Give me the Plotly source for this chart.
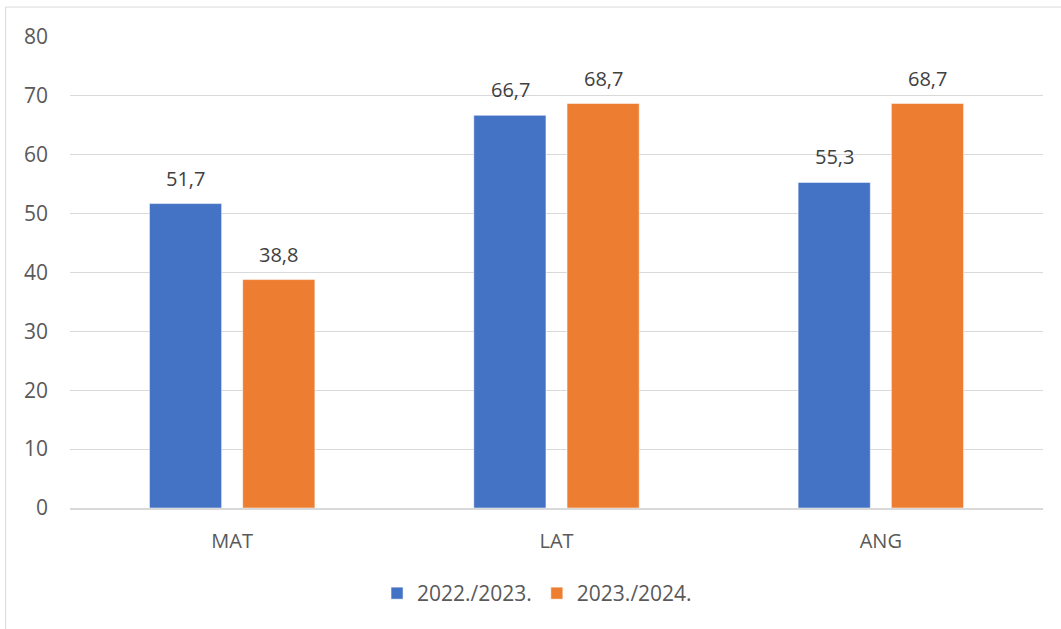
import plotly.graph_objects as go

categories = ["MAT", "LAT", "ANG"]
series_names = ["2022./2023.", "2023./2024."]
values_2022 = [51.7, 66.7, 55.3]
values_2023 = [38.8, 68.7, 68.7]
colors = ["#4472C4", "#ED7D31"]
y_ticks = [0, 10, 20, 30, 40, 50, 60, 70, 80]

FONT = "Open Sans"
TXT = "#595959"

fig = go.Figure()
all_vals = [values_2022, values_2023]
for name, vals, col in zip(series_names, all_vals, colors):
    fig.add_trace(go.Bar(
        x=categories, y=vals, name=name,
        marker=dict(color=col, line=dict(color="rgba(255,255,255,0.5)", width=1)),
    ))

# data labels
shifts = [-46.5, 46.5]
for vals, xs in zip(all_vals, shifts):
    for c, v in zip(categories, vals):
        fig.add_annotation(
            x=c, y=v, xref="x", yref="y", text=f"{v:.1f}".replace(".", ","),
            showarrow=False, xshift=xs, yshift=10, yanchor="bottom",
            font=dict(family=FONT, size=20, color="#404040"),
        )

# chart border (left/top visible)
fig.add_shape(type="rect", xref="paper", yref="paper",
              x0=-0.0662, x1=1.05, y0=-0.5, y1=1.0636,
              line=dict(color="#d9d9d9", width=1), layer="below")

fig.update_layout(
    width=1061, height=629,
    margin=dict(l=70, r=18, t=37, b=121, autoexpand=False),
    paper_bgcolor="white", plot_bgcolor="white",
    barmode="group", bargap=0.425, bargroupgap=0.226,
    font=dict(family=FONT, size=19, color=TXT),
    showlegend=True,
    legend=dict(orientation="h", x=0.48, xanchor="center", y=-0.138, yanchor="top",
                font=dict(family=FONT, size=21, color=TXT), itemwidth=30,
                traceorder="normal"),
    xaxis=dict(showgrid=False, showline=True, linecolor="#d9d9d9", linewidth=2,
               ticks="", tickfont=dict(family=FONT, size=20, color=TXT),
               ticklabelstandoff=14),
    yaxis=dict(range=[0, 80], tickvals=y_ticks, showgrid=True, gridcolor="#d9d9d9",
               gridwidth=1, zeroline=False, showline=False, ticks="",
               tickfont=dict(family=FONT, size=21, color=TXT),
               ticklabelstandoff=21),
)

fig.write_html("out.html", config={"displayModeBar": False},
               post_script="document.body.style.margin='0';")
